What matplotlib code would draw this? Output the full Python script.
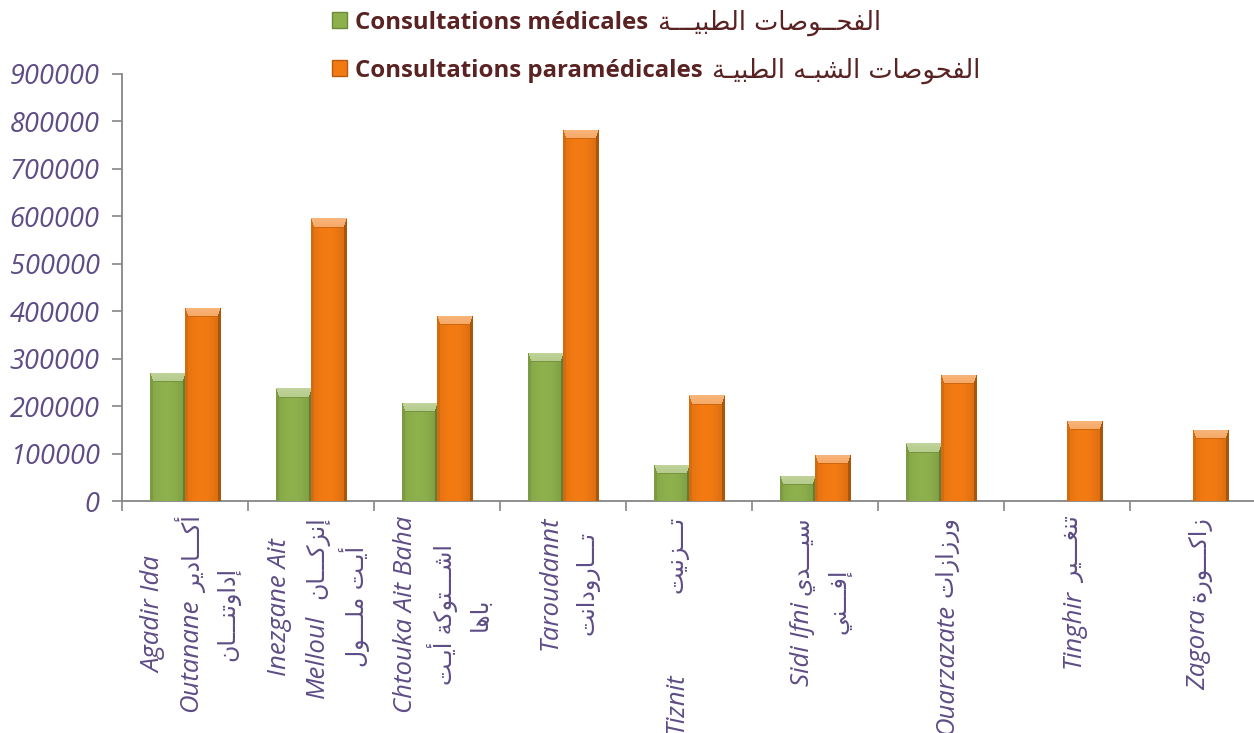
import numpy as np
import matplotlib
matplotlib.use("Agg")
import matplotlib.pyplot as plt
from matplotlib.patches import Patch
from matplotlib.colors import to_rgb
from matplotlib.transforms import IdentityTransform

# ---------------- data ----------------
districts_fr = ["Agadir Ida Outanane", "Inezgane Ait Melloul", "Chtouka Ait Baha",
                "Taroudannt", "Tiznit", "Sidi Ifni", "Ouarzazate", "Tinghir", "Zagora"]
districts_ar = ["أكـــادير إداوتنـــان", "إنزكـــان أيـت ملـــول", "اشـــتوكة أيـت باها",
                "تـــارودانت", "تـــزنيت", "سيـــدي إفـــني", "ورزازات", "تنغـــير", "زاكـــورة"]
# visual line layout of each tick label: (latin part, arabic part) per line
label_lines = [
    [("Agadir Ida", ""), ("Outanane", "أكـــادير"), ("", "إداوتنـــان")],
    [("Inezgane Ait", ""), ("Melloul ", "إنزكـــان"), ("", "أيـت ملـــول")],
    [("Chtouka Ait Baha", ""), ("", "اشـــتوكة أيـت"), ("", "باها")],
    [("Taroudannt", ""), ("", "تـــارودانت")],
    [("Tiznit        ", "تـــزنيت"), ("", "")],
    [("Sidi Ifni", "سيـــدي"), ("", "إفـــني")],
    [("Ouarzazate", "ورزازات")],
    [("Tinghir", "تنغـــير")],
    [("Zagora", "زاكـــورة")],
]
consult_medicales = [270000, 238000, 207000, 312000, 76000, 53000, 122000, 0, 0]
consult_paramedicales = [407000, 596000, 390000, 782000, 223000, 97000, 266000, 169000, 150000]
series_fr = ["Consultations médicales", "Consultations paramédicales"]
series_ar = ["الفحــوصات الطبيـــة", "الفحوصات الشبـه الطبيـة"]
yticks = [0, 100000, 200000, 300000, 400000, 500000, 600000, 700000, 800000, 900000]

# ---------------- minimal arabic shaping (visual order) ----------------
_DUAL = {
    'ب': 0xFE8F, 'ت': 0xFE95, 'ث': 0xFE99, 'ج': 0xFE9D, 'ح': 0xFEA1, 'خ': 0xFEA5,
    'س': 0xFEB1, 'ش': 0xFEB5, 'ص': 0xFEB9, 'ض': 0xFEBD, 'ط': 0xFEC1, 'ظ': 0xFEC5,
    'ع': 0xFEC9, 'غ': 0xFECD, 'ف': 0xFED1, 'ق': 0xFED5, 'ك': 0xFED9, 'ل': 0xFEDD,
    'م': 0xFEE1, 'ن': 0xFEE5, 'ه': 0xFEE9, 'ي': 0xFEF1,
}
_RIGHT = {
    'ا': 0xFE8D, 'أ': 0xFE83, 'إ': 0xFE87, 'ة': 0xFE93, 'د': 0xFEA9, 'ذ': 0xFEAB,
    'ر': 0xFEAD, 'ز': 0xFEAF, 'و': 0xFEED, 'ى': 0xFEEF,
}
_TAT = 'ـ'


def _joins_next(ch):
    return ch in _DUAL or ch == _TAT


def _is_ar(ch):
    return ch in _DUAL or ch in _RIGHT or ch == _TAT


def ar(s):
    out = []
    for i, ch in enumerate(s):
        if not _is_ar(ch) or ch == _TAT:
            out.append(ch)
            continue
        prev = s[i - 1] if i > 0 else ' '
        nxt = s[i + 1] if i + 1 < len(s) else ' '
        pc = _joins_next(prev)
        nc = _joins_next(ch) and _is_ar(nxt)
        if ch in _DUAL:
            code = _DUAL[ch] + (3 if (pc and nc) else 2 if nc else 1 if pc else 0)
        else:
            code = _RIGHT[ch] + (1 if pc else 0)
        out.append(chr(code))
    return ''.join(out)[::-1]


# ---------------- figure ----------------
FAM = ['Open Sans', 'DejaVu Sans']
AR_FAM = ['DejaVu Sans']
plt.rcParams['font.family'] = FAM
W, H = 1254, 733
fig = plt.figure(figsize=(W / 100, H / 100), dpi=100)
ax = fig.add_axes([122 / W, (H - 501) / H, (1256 - 122) / W, (501 - 74) / H])

x = np.arange(len(districts_fr))
bw = 0.28
green = '#8DB04C'
orange = '#F27A12'
b1 = ax.bar(x - bw / 2, consult_medicales, width=bw, color=green, zorder=2)
b2 = ax.bar(x + bw / 2, consult_paramedicales, width=bw, color=orange, zorder=2)

ax.set_xlim(-0.5, len(x) - 0.5)
ax.set_ylim(0, 900000)
ax.set_yticks(yticks)
ax.set_yticklabels([str(v) for v in yticks])

lab_color = '#5E4C86'
ax.tick_params(axis='y', direction='out', length=7, width=1.2, color='#868686',
               labelsize=19.5, labelcolor=lab_color, pad=9)
for t in ax.get_yticklabels():
    t.set_fontstyle('italic')

ax.set_xticks(x)
ax.set_xticklabels([''] * len(x))
ax.tick_params(axis='x', which='major', length=0)
ax.set_xticks(np.arange(-0.5, len(x), 1.0), minor=True)
ax.tick_params(axis='x', which='minor', direction='out', length=7, width=1.2,
               color='#868686')

for s in ['top', 'right']:
    ax.spines[s].set_visible(False)
for s in ['left', 'bottom']:
    ax.spines[s].set_color('#868686')
    ax.spines[s].set_linewidth(1.3)


# ---------------- bevelled bar shading ----------------
def bevel(base, w, h, b=9, s=3):
    base = np.array(to_rgb(base))
    rr, cc = np.mgrid[0:h, 0:w].astype(float)
    dl = cc
    dr = (w - 1) - cc
    t = cc / max(w - 1, 1)
    prof = 0.93 + 0.10 * np.sin(np.pi * t) - 0.05 * t
    img = base[None, None, :] * prof[..., None]
    k = s / b
    top = (rr < b) & (rr * k <= dl) & (rr * k <= dr)
    left = (dl < s) & ~top
    right = (dr < s) & ~top
    light = base + (1 - base) * 0.35
    g = (1 - rr / b)[..., None] * 0.15
    topcol = light[None, None, :] * (1 - g) + g
    img = np.where(top[..., None], topcol, img)
    img = np.where(left[..., None], base * 0.88, img)
    img = np.where(right[..., None], base * 0.70, img)
    seam = (np.abs(rr - b) < 0.8) & (dl >= s) & (dr >= s)
    img = np.where(seam[..., None], base * 0.85, img)
    return np.clip(img, 0, 1)


fig.canvas.draw()
for cont, col in ((b1, green), (b2, orange)):
    for r in cont:
        hval = r.get_height()
        if hval <= 0:
            continue
        x0, y0 = r.get_x(), r.get_y()
        x1, y1 = x0 + r.get_width(), y0 + hval
        p0 = ax.transData.transform((x0, y0))
        p1 = ax.transData.transform((x1, y1))
        wp = max(int(round(p1[0] - p0[0])), 2)
        hp = max(int(round(p1[1] - p0[1])), 2)
        im = ax.imshow(bevel(col, wp, hp), extent=[x0, x1, y0, y1], aspect='auto',
                       interpolation='nearest', zorder=3)
        im.set_clip_path(r)
ax.set_xlim(-0.5, len(x) - 0.5)
ax.set_ylim(0, 900000)

# ---------------- category labels (latin italic + arabic), rotated ----------------
fig.canvas.draw()
rend = fig.canvas.get_renderer()
LAT_KW = dict(fontsize=18.5, fontstyle='italic', color=lab_color, family=FAM)
AR_KW = dict(fontsize=17, color=lab_color, family=AR_FAM)
line_gap = 37.0
block_top = H - 516.0
for i, lines in enumerate(label_lines):
    xc = ax.transData.transform((x[i], 0))[0] + 6
    built = []
    for lat, a in lines:
        segs = []
        gap = 0.0
        if lat.strip():
            t = fig.text(0, 0, lat.strip(), rotation=90, rotation_mode='anchor',
                         ha='left', va='center', transform=IdentityTransform(), **LAT_KW)
            segs.append(t)
            gap = 7.0 + 9.0 * (len(lat) - len(lat.rstrip()))
        if a:
            t = fig.text(0, 0, ar(a), rotation=90, rotation_mode='anchor',
                         ha='left', va='center', transform=IdentityTransform(), **AR_KW)
            segs.append(t)
        lens = [s.get_window_extent(rend).height for s in segs]
        total = sum(lens) + (gap if len(segs) == 2 else 0.0)
        built.append((segs, lens, gap, total))
    lmax = max(b[3] for b in built)
    ymid = block_top - lmax / 2
    n = len(built)
    for j, (segs, lens, gap, total) in enumerate(built):
        xl = xc + (j - (n - 1) / 2) * line_gap
        y = ymid - total / 2
        for s, L in zip(segs, lens):
            s.set_position((xl, y))
            y += L + gap

# ---------------- legend ----------------
leg_color = '#5A2222'
handles = [Patch(facecolor=green, edgecolor='#6E8A38'),
           Patch(facecolor=orange, edgecolor='#B85A10')]
leg = fig.legend(handles, series_fr, loc='upper left',
                 bbox_to_anchor=(315 / W, 1.0 + 6 / H), frameon=False,
                 prop={'family': FAM, 'weight': 'bold', 'size': 17.3},
                 handlelength=0.65, handleheight=0.65, handletextpad=0.3,
                 labelspacing=1.0, borderpad=0.2)
for t in leg.get_texts():
    t.set_color(leg_color)

fig.canvas.draw()
rend = fig.canvas.get_renderer()
for t, a in zip(leg.get_texts(), series_ar):
    bb = t.get_window_extent(rend)
    fig.text((bb.x1 + 10) / W, (bb.y0 + bb.y1) / 2 / H, ar(a), ha='left', va='center',
             fontsize=18.5, color=leg_color, family=AR_FAM)

fig.savefig('out.png', dpi=100)
